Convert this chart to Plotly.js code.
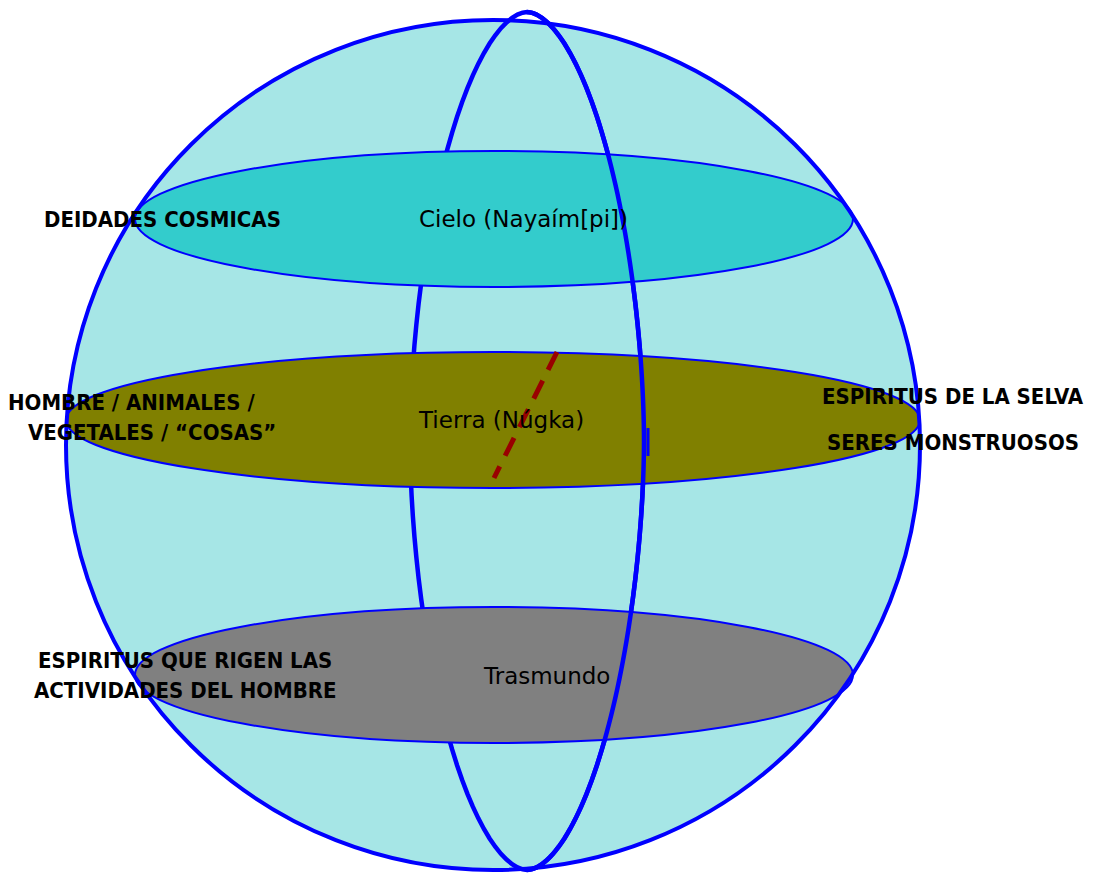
<!DOCTYPE html>
<html><head><meta charset="utf-8">
<script src="https://cdn.plot.ly/plotly-3.0.1.min.js"></script>
<style>html,body{margin:0;padding:0;background:#fff}#chart{width:1096px;height:877px}</style>
</head><body><div id="chart"></div>
<script>
// Data: the three cosmic levels and the beings that belong to each
const levels = ["Cielo (Nayaím[pi])", "Tierra (Núgka)", "Trasmundo"];
const levelColors = ["#33cccc", "#808000", "#808080"];
const beingsLeft = ["DEIDADES COSMICAS", "HOMBRE / ANIMALES /", "VEGETALES / “COSAS”", "ESPIRITUS QUE RIGEN LAS", "ACTIVIDADES DEL HOMBRE"];
const beingsRight = ["ESPIRITUS DE LA SELVA", "SERES MONSTRUOSOS"];

const FONT_R = "DejaVu Sans, sans-serif";
const FONT_B = "DejaVu Sans Condensed, DejaVu Sans, sans-serif";
const BLUE = "#0000ff";
function ell(cx, cy, rx, ry, fill, lw) {
  return {type:'circle', xref:'x', yref:'y', x0:cx-rx, x1:cx+rx, y0:cy-ry, y1:cy+ry,
    fillcolor:fill, line:{color:BLUE, width:lw}, layer:'above'};
}
// lens-like meridian outline (superellipse), geometry only
function meridian(cx, cy, rx, ry, p, from, to) {
  const pts = [];
  for (let i = 0; i <= 120; i++) {
    const a = from + (to - from) * i / 120;
    const c = Math.cos(a), s = Math.sin(a);
    const x = cx + rx * Math.sign(c) * Math.pow(Math.abs(c), 2 / p);
    const y = cy + ry * Math.sign(s) * Math.pow(Math.abs(s), 2 / p);
    pts.push((i ? 'L ' : 'M ') + x.toFixed(2) + ',' + y.toFixed(2));
  }
  return pts.join(' ');
}
const MC = [527, 441, 117, 429, 1.8];
const levelGeo = [[494,219,359,68],[493,420,427,68],[494,675,359,68]];
const shapes = [];
shapes.push(ell(493,445,427,425,'#a6e6e6',0));
shapes.push({type:'path', xref:'x', yref:'y', path:meridian(...MC, 0, 2*Math.PI) + ' Z', line:{color:BLUE,width:4.5}, layer:'above'});
levelGeo.forEach((g,i)=>shapes.push(ell(g[0],g[1],g[2],g[3],levelColors[i],2)));
shapes.push({type:'path', xref:'x', yref:'y', path:meridian(...MC, -Math.PI/2, Math.PI/2), line:{color:BLUE,width:4.5}, layer:'above'});
shapes.push(ell(493,445,427,425,'rgba(0,0,0,0)',4));
shapes.push({type:'line', xref:'x', yref:'y', x0:648, x1:648, y0:428, y1:456, line:{color:BLUE,width:3}, layer:'above'});
shapes.push({type:'line', xref:'x', yref:'y', x0:557, y0:352, x1:494, y1:478, line:{color:'#990000',width:5,dash:'20px,12px'}, layer:'above'});

const ann = [];
const levelText = [[523,219],[501,420],[546,676]];
levels.forEach((t,i)=>ann.push({x:levelText[i][0], y:levelText[i][1], text:t, showarrow:false, font:{family:FONT_R,size:23,color:'#000'}}));
function lab(x,y,t){ann.push({x:x,y:y,text:'<b>'+t+'</b>', showarrow:false, font:{family:FONT_B,size:22,color:'#000'}, xanchor:'center', yanchor:'middle'});}
lab(162,219,beingsLeft[0]);
lab(131,402,beingsLeft[1]);
lab(152,432,beingsLeft[2]);
lab(185,660,beingsLeft[3]);
lab(185,690,beingsLeft[4]);
lab(953,396,beingsRight[0]);
lab(953,442,beingsRight[1]);

Plotly.newPlot('chart', [], {
  width:1096, height:877, margin:{l:0,r:0,t:0,b:0},
  paper_bgcolor:'#fff', plot_bgcolor:'#fff', showlegend:false,
  xaxis:{range:[0,1096], visible:false, fixedrange:true},
  yaxis:{range:[877,0], visible:false, fixedrange:true},
  shapes:shapes, annotations:ann
}, {staticPlot:true});
</script></body></html>
